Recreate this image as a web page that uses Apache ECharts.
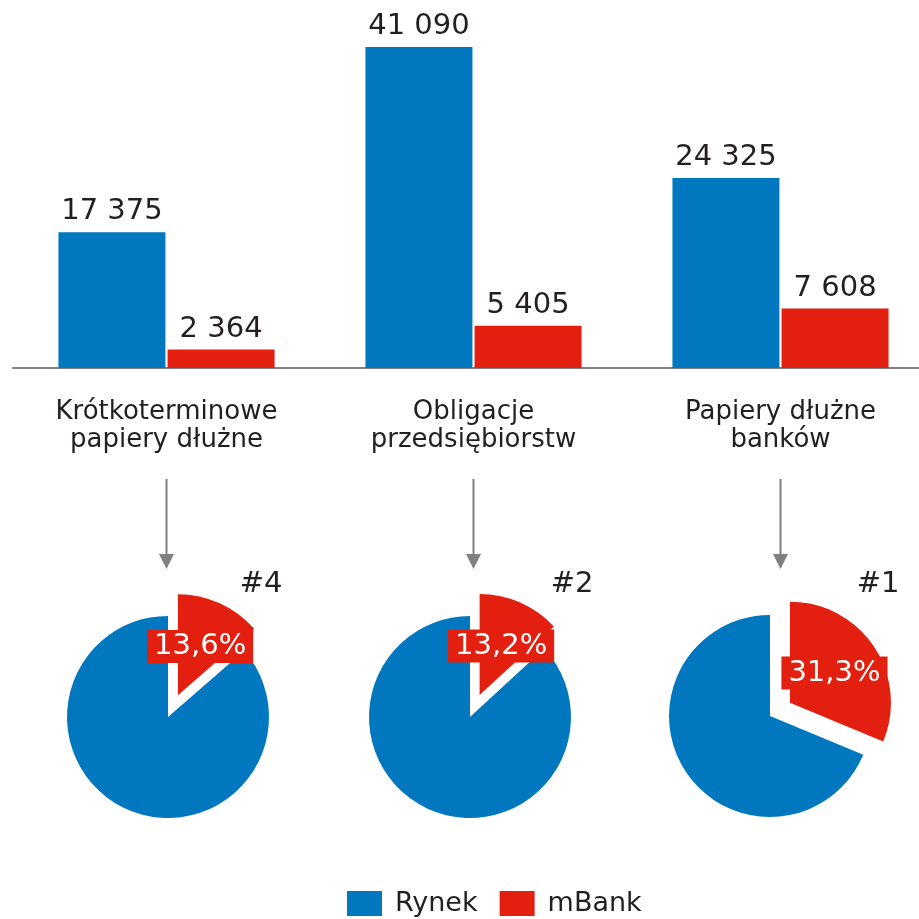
<!DOCTYPE html>
<html>
<head>
<meta charset="utf-8">
<script src="https://cdn.jsdelivr.net/npm/echarts@6/dist/echarts.min.js"></script>
<style>
  html, body { margin: 0; padding: 0; background: #ffffff; }
  #chart { width: 919px; height: 919px; }
</style>
</head>
<body>
<div id="chart"></div>
<script>
// Categories of debt securities
var categories = ['Krótkoterminowe\npapiery dłużne', 'Obligacje\nprzedsiębiorstw', 'Papiery dłużne\nbanków'];
// Market totals and mBank volumes
var rynek = [17375, 41090, 24325];
var mbank = [2364, 5405, 7608];
// Ranking of mBank in each category
var ranks = ['#4', '#2', '#1'];

var BLUE = '#0077BF';
var RED = '#E3200F';
var TEXT = '#231F20';
var GREY = '#808080';
var FONT = 'DejaVu Sans';

function spaced(v) {
  return String(v).replace(/\B(?=(\d{3})+(?!\d))/g, ' ');
}
function share(i) {
  return (mbank[i] / rynek[i] * 100).toFixed(1).replace('.', ',') + '%';
}

var pieCenters = [[168, 717], [470, 717], [770, 716]];
var rankPos = [[261, 584], [572, 584], [878, 584]];

var barLabel = {
  show: true, position: 'top', distance: 6, fontSize: 29, fontFamily: FONT, color: TEXT,
  formatter: function (p) { return spaced(p.value); }
};

var series = [
  {
    name: 'Rynek', type: 'bar', data: rynek, barGap: '2%', barCategoryGap: '29.6%',
    itemStyle: { color: BLUE }, label: barLabel
  },
  {
    name: 'mBank', type: 'bar', data: mbank,
    itemStyle: { color: RED }, label: barLabel
  }
];

categories.forEach(function (c, i) {
  series.push({
    type: 'pie',
    center: pieCenters[i],
    radius: 101,
    startAngle: 90,
    selectedMode: 'single',
    selectedOffset: 24,
    emphasis: { disabled: true },
    labelLine: { show: false },
    data: [
      {
        name: 'mBank', value: mbank[i], selected: true,
        itemStyle: { color: RED },
        label: {
          show: true, position: 'inside', formatter: share(i),
          color: '#ffffff', fontSize: 29, fontFamily: FONT,
          backgroundColor: RED, padding: [3, 7, 1, 7]
        }
      },
      {
        name: 'Rynek', value: rynek[i] - mbank[i],
        itemStyle: { color: BLUE },
        label: { show: false }
      }
    ]
  });
});

var chart = echarts.init(document.getElementById('chart'));
var option = {
  animation: false,
  backgroundColor: '#ffffff',
  grid: { left: 13, width: 921, top: 47, bottom: 551, containLabel: false, outerBoundsMode: 'none' },
  legend: {
    data: ['Rynek', 'mBank'],
    left: 347, top: 890, padding: 0,
    itemWidth: 35, itemHeight: 25, itemGap: 22,
    icon: 'rect',
    textStyle: { fontSize: 27, fontFamily: FONT, color: TEXT, padding: [0, 0, 0, 8] }
  },
  xAxis: {
    type: 'category', data: categories,
    axisLine: { lineStyle: { color: GREY, width: 2 } },
    axisTick: { show: false },
    axisLabel: { interval: 0, fontSize: 26, lineHeight: 28, fontFamily: FONT, color: TEXT, margin: 30 }
  },
  yAxis: { type: 'value', min: 0, max: 41090, show: false, splitLine: { show: false } },
  series: series
};
chart.setOption(option);

// Arrows from each category label down to its pie, plus rank captions
var graphics = [];
categories.forEach(function (c, i) {
  var x = chart.convertToPixel({ xAxisIndex: 0 }, i);
  graphics.push({
    type: 'line', shape: { x1: x, y1: 479, x2: x, y2: 556 },
    style: { stroke: GREY, lineWidth: 2 }, silent: true
  });
  graphics.push({
    type: 'polygon', shape: { points: [[x - 7.5, 554], [x + 7.5, 554], [x, 569]] },
    style: { fill: GREY }, silent: true
  });
  graphics.push({
    type: 'text', x: rankPos[i][0], y: rankPos[i][1],
    style: { text: ranks[i], fontSize: 29, fontFamily: FONT, fill: TEXT,
             textAlign: 'center', textVerticalAlign: 'middle' },
    silent: true
  });
});
chart.setOption({ graphic: graphics });
</script>
</body>
</html>
